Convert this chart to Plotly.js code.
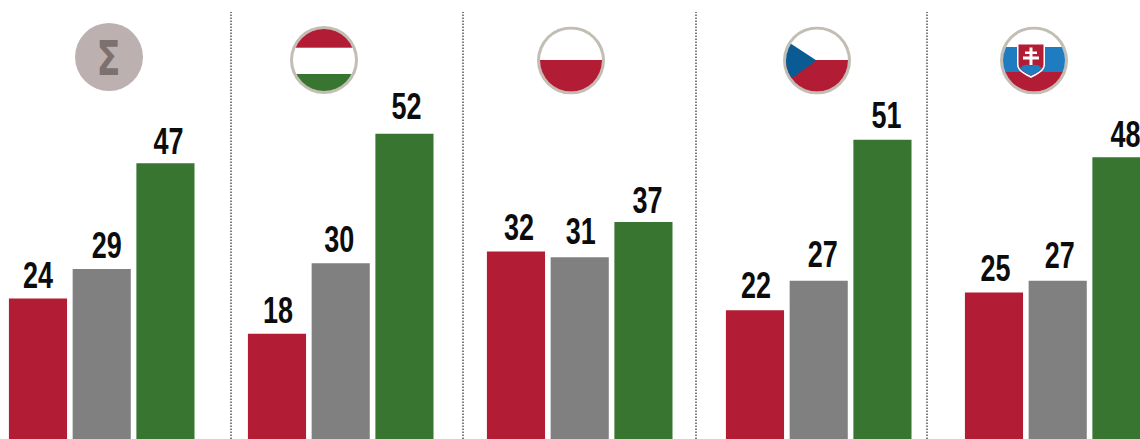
<!DOCTYPE html>
<html><head><meta charset="utf-8">
<script src="https://cdn.plot.ly/plotly-3.0.1.min.js"></script>
<style>html,body{margin:0;padding:0;background:#fff;overflow:hidden}#c{width:1140px;height:439px}</style>
</head><body><div id="c"></div>
<script>
const categories = ["Σ","HU","PL","CZ","SK"];
const seriesRed = [24,18,32,22,25];
const seriesGrey = [29,30,31,27,27];
const seriesGreen = [47,52,37,51,48];
const colors = ["#b31c35","#808080","#387530"];
const separators = [231,463,696,927];
const labelDx = [[0,1,3,1,1.5],[5,-1.5,1,4,2],[3,2,4,4,4]];
const labelDy = [[2.5,2.5,1.5,0.5,1.5],[1.5,1.5,-0.5,-0.5,0.5],[3.5,-1.5,3.5,1.5,2.5]];
const W=1140,H=439;
function svg(inner){return "data:image/svg+xml;utf8,"+encodeURIComponent('<svg xmlns="http://www.w3.org/2000/svg" width="136" height="136" viewBox="0 0 68 68"><defs><clipPath id="k"><circle cx="34" cy="34" r="31"/></clipPath></defs><circle cx="34" cy="34" r="34" fill="#c2beb4"/><circle cx="34" cy="34" r="31" fill="#fff"/><g clip-path="url(#k)">'+inner+'</g></svg>');}
const flags = [
 {cx:324,cy:60,src:svg('<rect width="68" height="21.700" fill="#b31c35"/><rect y="48" width="68" height="20" fill="#387530"/>')},
 {cx:571,cy:60.5,src:svg('<rect y="33.5" width="68" height="35" fill="#b31c35"/>')},
 {cx:817,cy:60.5,src:svg('<rect y="33.5" width="68" height="35" fill="#b31c35"/><path d="M0 12 L33.5 34 L0 58 Z" fill="#0a5a94"/>')},
 {cx:1034,cy:60.5,src:svg('<rect y="20.500" width="68" height="25" fill="#1f7cc0"/><rect y="45.500" width="68" height="23" fill="#b31c35"/><path d="M17 16.500 H45 V38 C45 45 37 48 31 51.500 C25 48 17 45 17 38 Z" fill="#fff"/><path d="M18.500 18 H43.500 V38 C43.500 44 36 47 31 49.500 C26 47 18.500 44 18.500 38 Z" fill="#b31c35"/><path d="M20 42 C24 37 27 38 31 39 C35 38 38 37 42 42 C38 46 35 47 31 49 C27 47 24 46 20 42 Z" fill="#1f7cc0"/><path d="M29.500 21 H32.500 V25 H37 V27.500 H32.500 V30 H39 V33 H32.500 V38.500 H29.500 V33 H23 V30 H29.500 V27.500 H25 V25 H29.500 Z" fill="#fff"/>')}
];
const traces = [seriesRed,seriesGrey,seriesGreen].map((v,i)=>({
  type:"bar",x:categories,y:v,text:v.map(String),textposition:"outside",cliponaxis:false,
  textfont:{family:"Liberation Sans, Arial, sans-serif",size:36,color:"#0c0c0c",weight:700},
  marker:{color:colors[i],line:{width:0}},hoverinfo:"skip"
}));
const layout = {
  width:W,height:H,margin:{l:0,r:0,t:0,b:0},paper_bgcolor:"#fff",plot_bgcolor:"#fff",showlegend:false,
  barmode:"group",bargap:0.2,bargroupgap:0.088,
  xaxis:{type:"category",categoryorder:"array",categoryarray:categories,range:[-0.4256,4.3443],visible:false},
  yaxis:{range:[0.1,74.76],visible:false},
  shapes:separators.map(x=>({type:"line",xref:"paper",yref:"paper",x0:x/W,x1:x/W,y0:0,y1:1-12/H,line:{color:"#555",width:1.5,dash:"1.5px,1.5px"}}))
   .concat([{type:"circle",xref:"paper",yref:"paper",x0:75/W,x1:143/W,y0:1-91/H,y1:1-23/H,fillcolor:"#bcb0b0",line:{width:0}}]),
  annotations:[{xref:"paper",yref:"paper",x:108/W,y:1-58/H,text:"Σ",showarrow:false,xanchor:"center",yanchor:"middle",
    font:{family:"DejaVu Sans, sans-serif",size:48,color:"#7d716f",weight:700}}],
  images:flags.map(f=>({source:f.src,xref:"paper",yref:"paper",x:(f.cx-34)/W,y:1-(f.cy-34)/H,sizex:68/W,sizey:68/H,xanchor:"left",yanchor:"top",sizing:"stretch",layer:"above"}))
};
Plotly.newPlot("c",traces,layout,{staticPlot:true,displayModeBar:false}).then(()=>{
  document.querySelectorAll(".trace.bars").forEach((tr,i)=>{
    tr.querySelectorAll(".point").forEach((p,j)=>{
      const t=p.querySelector("text");
      if(!t) return;
      t.setAttribute("textLength","30");t.setAttribute("lengthAdjust","spacingAndGlyphs");
      t.setAttribute("x",String(parseFloat(t.getAttribute("x")||"0")+labelDx[i][j]));
      t.setAttribute("y",String(parseFloat(t.getAttribute("y")||"0")-2+labelDy[i][j]));
    });
  });
  document.querySelectorAll(".annotation-text").forEach(t=>{
    t.setAttribute("textLength","24");t.setAttribute("lengthAdjust","spacingAndGlyphs");
  });
});
</script></body></html>
